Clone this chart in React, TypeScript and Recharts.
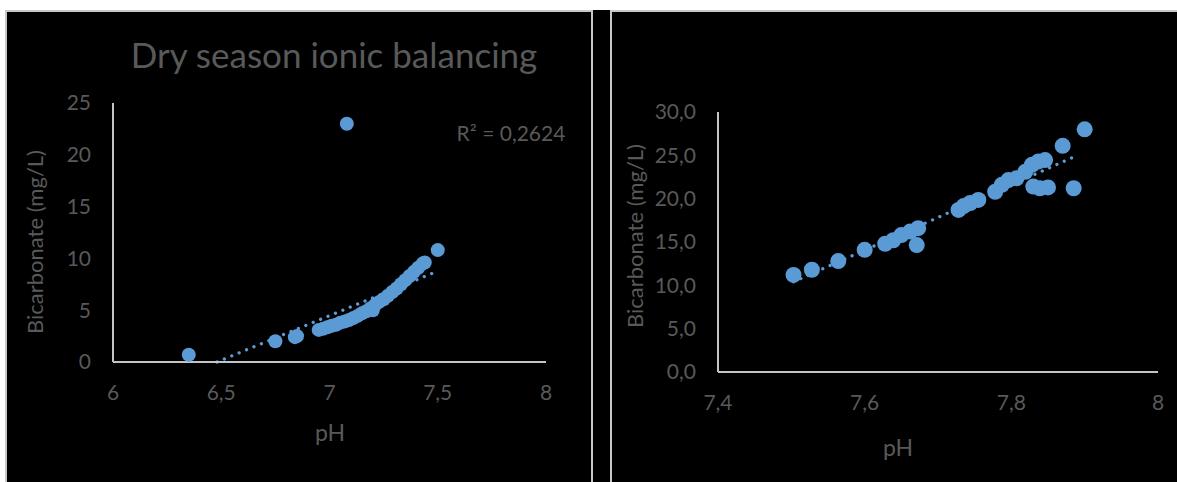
import { ScatterChart, Scatter, XAxis, YAxis, ReferenceLine } from 'recharts';

// Dry season (left panel)
const dryPh = [
  6.35, 6.75, 6.84, 6.85, 6.95, 6.97, 6.99, 7.01, 7.03, 7.05, 7.07, 7.09, 7.11, 7.13,
  7.15, 7.17, 7.19, 7.2, 7.21, 7.23, 7.25, 7.27, 7.29, 7.31, 7.33, 7.35, 7.37, 7.39,
  7.41, 7.43, 7.44, 7.5, 7.08,
];
const dryHco3 = [
  0.7, 2.0, 2.4, 2.5, 3.1, 3.2, 3.35, 3.5, 3.6, 3.8, 3.9, 4.05, 4.25, 4.45,
  4.7, 4.9, 5.2, 5.0, 5.5, 5.8, 6.05, 6.4, 6.75, 7.1, 7.5, 7.9, 8.3, 8.7,
  9.1, 9.5, 9.6, 10.8, 23.0,
];
const dryTrendPh = [6.48, 7.48];
const dryTrendHco3 = [0, 8.6];
const dryXTicks = [6, 6.5, 7, 7.5, 8];
const dryYTicks = [0, 5, 10, 15, 20, 25];

// Second panel
const wetPh = [
  7.503, 7.528, 7.564, 7.6, 7.628, 7.639, 7.65, 7.662, 7.673, 7.671, 7.728, 7.735,
  7.744, 7.755, 7.778, 7.787, 7.796, 7.807, 7.819, 7.828, 7.837, 7.846, 7.83, 7.839,
  7.85, 7.885, 7.87, 7.9,
];
const wetHco3 = [
  11.2, 11.8, 12.8, 14.1, 14.8, 15.2, 15.8, 16.2, 16.6, 14.65, 18.7, 19.15,
  19.5, 19.85, 20.8, 21.6, 22.15, 22.35, 23.1, 23.9, 24.3, 24.45, 21.4, 21.2,
  21.3, 21.2, 26.1, 28.0,
];
const wetTrendPh = [7.503, 7.89];
const wetTrendHco3 = [10.4, 25.0];
const wetXTicks = [7.4, 7.6, 7.8, 8];
const wetYTicks = [0, 5, 10, 15, 20, 25, 30];

const FONT = 'Lato, "Open Sans", sans-serif';
const TEXT = '#595959';
const AXIS = '#c4c4c4';
const BLUE = '#5b9bd5';
const BORDER = '#c8c8c8';

const comma = (v: number) => String(v).replace('.', ',');
const comma1 = (v: number) => v.toFixed(1).replace('.', ',');

function PhChart(props: any) {
  const { width, height, margin, ph, hco3, trendPh, trendHco3, xDomain, xTicks, yDomain, yTicks, yFmt, r } = props;
  const data = ph.map((x: number, i: number) => ({ x, y: hco3[i] }));
  const tick = { fill: TEXT, fontSize: 21, fontFamily: FONT };
  return (
    <ScatterChart width={width} height={height} margin={margin}>
      <XAxis
        type="number"
        dataKey="x"
        domain={xDomain}
        ticks={xTicks}
        interval={0}
        allowDataOverflow
        axisLine={{ stroke: AXIS, strokeWidth: 2 }}
        tickLine={false}
        tickSize={0}
        tickMargin={23}
        height={40}
        tick={tick}
        tickFormatter={comma}
      />
      <YAxis
        type="number"
        dataKey="y"
        domain={yDomain}
        ticks={yTicks}
        interval={0}
        allowDataOverflow
        axisLine={{ stroke: AXIS, strokeWidth: 2 }}
        tickLine={false}
        tickSize={0}
        tickMargin={22}
        width={60}
        tick={tick}
        tickFormatter={yFmt}
      />
      <Scatter
        data={data}
        fill={BLUE}
        isAnimationActive={false}
        shape={(p: any) => <circle cx={p.cx} cy={p.cy} r={r} fill={BLUE} />}
      />
      <ReferenceLine
        segment={[
          { x: trendPh[0], y: trendHco3[0] },
          { x: trendPh[1], y: trendHco3[1] },
        ]}
        stroke={BLUE}
        strokeWidth={3.3}
        strokeDasharray="0.01 8"
        strokeLinecap="round"
        ifOverflow="visible"
      />
    </ScatterChart>
  );
}

const textStyle = (cx: number, cy: number, size: number, rotate = false): any => ({
  position: 'absolute',
  left: cx,
  top: cy,
  transform: `translate(-50%, -50%)${rotate ? ' rotate(-90deg)' : ''}`,
  whiteSpace: 'nowrap',
  color: TEXT,
  fontFamily: FONT,
  fontSize: size,
  lineHeight: 1,
});

export default function App() {
  return (
    <div style={{ position: 'absolute', left: 0, top: 0, width: 1177, height: 482, background: '#fff', overflow: 'hidden' }}>
      <div style={{ position: 'absolute', left: 5, top: 10, width: 1172, height: 472, background: '#000' }} />
      <div style={{ position: 'absolute', left: 5, top: 10, width: 588, height: 490, border: `2px solid ${BORDER}`, boxSizing: 'border-box' }} />
      <div style={{ position: 'absolute', left: 610, top: 10, width: 600, height: 490, border: `2px solid ${BORDER}`, boxSizing: 'border-box' }} />

      <div style={{ position: 'absolute', left: 5, top: 10 }}>
        <PhChart
          width={588}
          height={472}
          margin={{ top: 93, left: 48, right: 47, bottom: 80 }}
          ph={dryPh}
          hco3={dryHco3}
          trendPh={dryTrendPh}
          trendHco3={dryTrendHco3}
          xDomain={[6, 8]}
          xTicks={dryXTicks}
          yDomain={[0, 25]}
          yTicks={dryYTicks}
          yFmt={comma}
          r={7}
        />
      </div>
      <div style={{ position: 'absolute', left: 610, top: 10 }}>
        <PhChart
          width={567}
          height={472}
          margin={{ top: 102, left: 48, right: 19, bottom: 70 }}
          ph={wetPh}
          hco3={wetHco3}
          trendPh={wetTrendPh}
          trendHco3={wetTrendHco3}
          xDomain={[7.4, 8]}
          xTicks={wetXTicks}
          yDomain={[0, 30]}
          yTicks={wetYTicks}
          yFmt={comma1}
          r={8}
        />
      </div>

      <div style={textStyle(334, 54, 35)}>Dry season ionic balancing</div>
      <div style={textStyle(511, 132, 21)}>R² = 0,2624</div>
      <div style={textStyle(35, 242, 22, true)}>Bicarbonate (mg/L)</div>
      <div style={textStyle(330, 432, 23)}>pH</div>
      <div style={textStyle(635, 236, 22, true)}>Bicarbonate (mg/L)</div>
      <div style={textStyle(898, 447, 23)}>pH</div>
    </div>
  );
}
